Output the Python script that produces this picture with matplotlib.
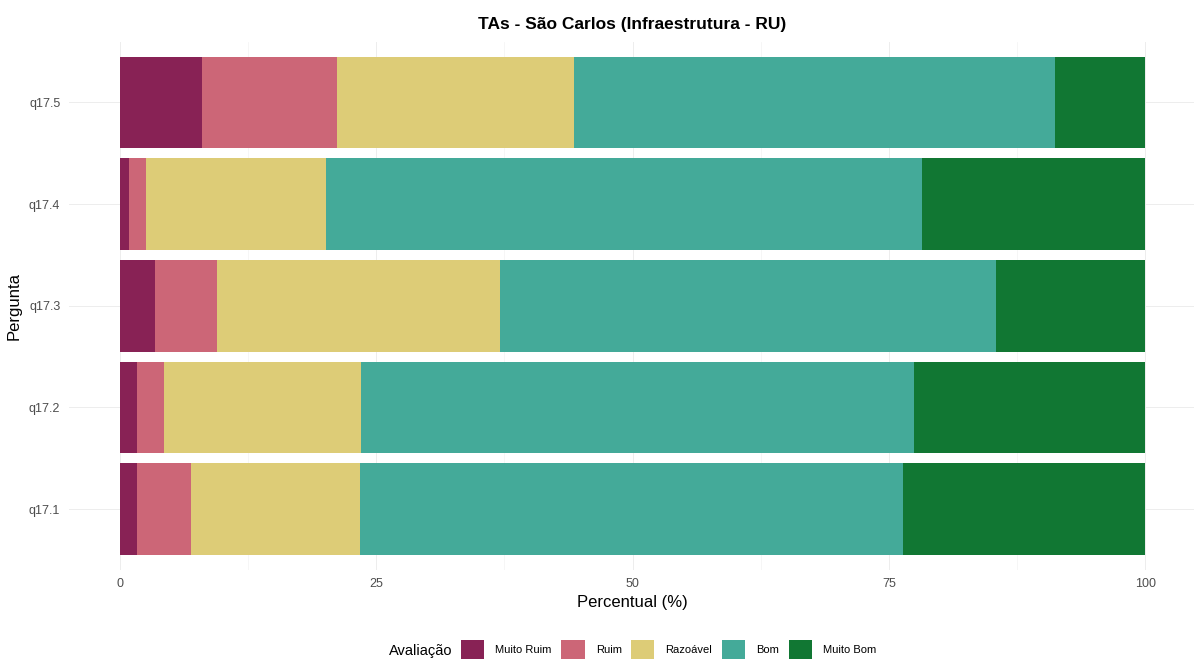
import numpy as np
import matplotlib
matplotlib.use("Agg")
import matplotlib.pyplot as plt
from matplotlib.patches import Patch

plt.rcParams['font.family'] = ['Liberation Sans', 'DejaVu Sans']

# data (percent per answer)
perguntas = ['q17.1', 'q17.2', 'q17.3', 'q17.4', 'q17.5']
niveis = ['Muito Ruim', 'Ruim', 'Razoável', 'Bom', 'Muito Bom']
muito_ruim = [1.7, 1.7, 3.4, 0.9, 8.0]
ruim = [5.2, 2.6, 6.1, 1.6, 13.2]
razoavel = [16.5, 19.2, 27.6, 17.6, 23.1]
bom = [53.0, 53.9, 48.3, 58.1, 46.9]
muito_bom = [23.6, 22.6, 14.6, 21.8, 8.8]
cores = ['#882255', '#CC6677', '#DDCC77', '#44AA99', '#117733']

series = [muito_ruim, ruim, razoavel, bom, muito_bom]

fig = plt.figure(figsize=(11.94, 6.59), dpi=100)
ax = fig.add_axes([0.0575, 0.135, 0.9446, 0.802])

y = np.arange(len(perguntas))
left = np.zeros(len(perguntas))
for vals, cor in zip(series, cores):
    ax.barh(y, vals, left=left, height=0.9, color=cor, zorder=2)
    left += np.array(vals)

ax.set_xlim(-5, 105)
ax.set_ylim(-0.6, len(perguntas) - 0.4)
ax.set_yticks(y)
ax.set_yticklabels(perguntas)
ax.set_xticks([0, 25, 50, 75, 100])
ax.set_xticks([12.5, 37.5, 62.5, 87.5], minor=True)

# theme_minimal look
for s in ax.spines.values():
    s.set_visible(False)
ax.grid(True, which='major', color='#EDEDED', lw=0.7, zorder=0)
ax.grid(True, which='minor', axis='x', color='#F3F3F3', lw=0.5, zorder=0)
ax.tick_params(which='both', length=0, labelsize=9, labelcolor='#4D4D4D', pad=6)

ax.set_xlabel('Percentual (%)', fontsize=12, labelpad=3)
ax.set_ylabel('Pergunta', fontsize=12, labelpad=5)
ax.set_title('TAs - São Carlos (Infraestrutura - RU)', fontsize=12.5, fontweight='bold', pad=9)

# legend at the bottom, title at the left
handles = [Patch(facecolor=c, edgecolor='none') for c in cores]
fig.legend(handles, niveis, loc='center left', bbox_to_anchor=(461 / 1194, 1 - 650 / 659),
           ncol=5, frameon=False, fontsize=8, handlelength=2.1, handleheight=2.3,
           handletextpad=1.0, columnspacing=0.85, borderpad=0, borderaxespad=0)
fig.text(389 / 1194, 1 - 651 / 659, 'Avaliação', fontsize=10.5, va='center', ha='left')

fig.savefig('out.png', dpi=100)
